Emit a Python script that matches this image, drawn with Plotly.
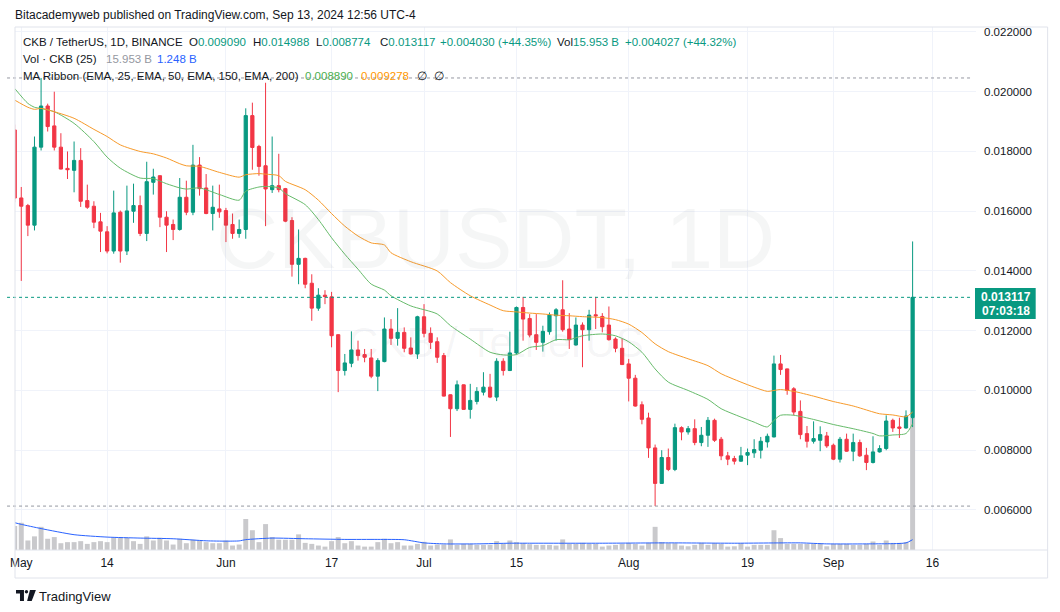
import plotly.graph_objects as go
import pandas as pd

# ---------------- data ----------------
first_date = "2024-04-30"          # first candle (daily)
day_zero = "2024-05-01"            # reference day for indicator sample offsets

opens = [
    0.01872, 0.016444, 0.016189, 0.015533, 0.018144, 0.019522, 0.018856, 0.018144, 0.017433, 0.017367,
    0.017700, 0.016356, 0.016167, 0.015644, 0.015311, 0.014667, 0.015967, 0.014667, 0.016000, 0.016189,
    0.015256, 0.016967, 0.017189, 0.015800, 0.015556, 0.015389, 0.016467, 0.015967, 0.017544, 0.016778,
    0.015922, 0.016078, 0.016022, 0.015556, 0.015256, 0.015389, 0.019200, 0.018167, 0.017522, 0.016722,
    0.016856, 0.016756, 0.015689, 0.014222, 0.014422, 0.013589, 0.012756, 0.013189, 0.013133, 0.011867,
    0.010667, 0.010911, 0.011356, 0.011200, 0.011089, 0.010478, 0.010967, 0.012056, 0.011744, 0.011944,
    0.011422, 0.011222, 0.012467, 0.011911, 0.011633, 0.011167, 0.009856, 0.009389, 0.010189, 0.009367,
    0.009633, 0.009944, 0.010111, 0.009778, 0.010978, 0.010667, 0.011256, 0.012778, 0.012411, 0.011867,
    0.011611, 0.011967, 0.012500, 0.012700, 0.012056, 0.011522, 0.012189, 0.012033, 0.012533, 0.012478,
    0.012189, 0.011722, 0.011411, 0.010889, 0.010411, 0.009522, 0.009078, 0.008078, 0.006889, 0.007756,
    0.007356, 0.008756, 0.008611, 0.008722, 0.008256, 0.008500, 0.009000, 0.008367, 0.007811, 0.007722,
    0.007633, 0.007833, 0.007911, 0.008000, 0.008278, 0.008444, 0.010889, 0.010722, 0.010056, 0.009300,
    0.008556, 0.008300, 0.008333, 0.008478, 0.008167, 0.007700, 0.008367, 0.007967, 0.008256, 0.007833,
    0.007589, 0.007944, 0.008056, 0.009000, 0.008778, 0.008744, 0.009090,
]
highs = [
    0.01890, 0.016811, 0.016244, 0.018500, 0.020460, 0.019600, 0.020000, 0.018611, 0.018000, 0.018333,
    0.018111, 0.016889, 0.016333, 0.015944, 0.015500, 0.016689, 0.016022, 0.016856, 0.016922, 0.016522,
    0.017656, 0.017422, 0.017200, 0.016000, 0.015722, 0.017111, 0.017022, 0.018222, 0.017811, 0.017244,
    0.016856, 0.016889, 0.016111, 0.015922, 0.015722, 0.019444, 0.019633, 0.018222, 0.020300, 0.018500,
    0.017922, 0.016780, 0.015800, 0.015389, 0.014444, 0.013889, 0.013422, 0.013356, 0.013300, 0.011880,
    0.011222, 0.011978, 0.011667, 0.011389, 0.011389, 0.011078, 0.012444, 0.012389, 0.012756, 0.012111,
    0.011778, 0.012500, 0.012889, 0.012111, 0.011778, 0.011256, 0.009870, 0.010333, 0.010200, 0.010222,
    0.010111, 0.010611, 0.010556, 0.011078, 0.011078, 0.011967, 0.012811, 0.013133, 0.012556, 0.012556,
    0.012167, 0.012611, 0.012756, 0.013689, 0.012589, 0.012444, 0.012278, 0.012700, 0.013133, 0.012589,
    0.012811, 0.011778, 0.011744, 0.011056, 0.010522, 0.009633, 0.009256, 0.008189, 0.008000, 0.008056,
    0.008889, 0.008800, 0.008811, 0.009033, 0.008778, 0.009111, 0.009056, 0.008444, 0.007944, 0.007811,
    0.008111, 0.008056, 0.008367, 0.008444, 0.008556, 0.011167, 0.011189, 0.010730, 0.010111, 0.009667,
    0.008811, 0.008967, 0.008800, 0.008611, 0.008222, 0.008444, 0.008556, 0.008556, 0.008356, 0.008078,
    0.008467, 0.008167, 0.009167, 0.009056, 0.009089, 0.009333, 0.014988,
]
lows = [
    0.01630, 0.013667, 0.015167, 0.015356, 0.018033, 0.018667, 0.018033, 0.017400, 0.017078, 0.016633,
    0.016144, 0.016078, 0.015433, 0.014633, 0.014589, 0.014578, 0.014278, 0.014533, 0.015611, 0.015167,
    0.015000, 0.016556, 0.015467, 0.014633, 0.015033, 0.015350, 0.015867, 0.015867, 0.016522, 0.015900,
    0.015356, 0.015778, 0.014967, 0.015078, 0.015111, 0.015078, 0.017389, 0.017189, 0.015500, 0.016611,
    0.016633, 0.015633, 0.013811, 0.013556, 0.013422, 0.012333, 0.012667, 0.012889, 0.011444, 0.009944,
    0.010500, 0.010778, 0.011000, 0.010944, 0.010411, 0.009978, 0.010944, 0.011522, 0.011500, 0.011278,
    0.011200, 0.011056, 0.011778, 0.011389, 0.010922, 0.009800, 0.008444, 0.009311, 0.009350, 0.009056,
    0.009533, 0.009833, 0.009744, 0.009644, 0.010500, 0.010650, 0.011200, 0.011667, 0.011778, 0.011356,
    0.011300, 0.011867, 0.011667, 0.011967, 0.011389, 0.011500, 0.010778, 0.011667, 0.012056, 0.011944,
    0.011667, 0.011278, 0.010850, 0.009633, 0.009460, 0.008867, 0.007744, 0.006130, 0.006880, 0.007300,
    0.007300, 0.008333, 0.008522, 0.008167, 0.008133, 0.008111, 0.008278, 0.007667, 0.007500, 0.007522,
    0.007611, 0.007500, 0.007744, 0.007722, 0.008089, 0.008430, 0.010522, 0.009856, 0.009167, 0.008367,
    0.008089, 0.008222, 0.007967, 0.008078, 0.007667, 0.007589, 0.007950, 0.007633, 0.007778, 0.007333,
    0.007556, 0.007922, 0.008000, 0.008611, 0.008411, 0.008722, 0.008774,
]
closes = [
    0.01644, 0.016167, 0.015533, 0.018144, 0.019522, 0.018833, 0.018144, 0.017411, 0.017389, 0.017700,
    0.016333, 0.016133, 0.015633, 0.015333, 0.014667, 0.015944, 0.014667, 0.016011, 0.016189, 0.015256,
    0.016989, 0.017144, 0.015800, 0.015533, 0.015389, 0.016467, 0.015967, 0.017544, 0.016756, 0.015922,
    0.016133, 0.015978, 0.015533, 0.015256, 0.015389, 0.019200, 0.018133, 0.017500, 0.016744, 0.016856,
    0.016722, 0.015667, 0.014222, 0.014422, 0.013556, 0.012756, 0.013189, 0.013144, 0.011833, 0.010667,
    0.010922, 0.011356, 0.011167, 0.011111, 0.010478, 0.011000, 0.012056, 0.011744, 0.011944, 0.011411,
    0.011222, 0.012467, 0.011911, 0.011611, 0.011111, 0.009811, 0.009389, 0.010189, 0.009367, 0.009667,
    0.009967, 0.010111, 0.009778, 0.010978, 0.010667, 0.011256, 0.012778, 0.012389, 0.011856, 0.011611,
    0.011978, 0.012522, 0.012700, 0.012033, 0.011700, 0.012189, 0.012033, 0.012522, 0.012500, 0.012133,
    0.011700, 0.011411, 0.010867, 0.010411, 0.009478, 0.009033, 0.008078, 0.006889, 0.007756, 0.007356,
    0.008756, 0.008611, 0.008722, 0.008256, 0.008500, 0.009000, 0.008333, 0.007811, 0.007700, 0.007633,
    0.007811, 0.007922, 0.008022, 0.008300, 0.008467, 0.010889, 0.010700, 0.010000, 0.009278, 0.008522,
    0.008300, 0.008389, 0.008522, 0.008144, 0.007700, 0.008367, 0.007967, 0.008256, 0.007811, 0.007589,
    0.007944, 0.008056, 0.008978, 0.008744, 0.008733, 0.009144, 0.013117,
]
volumes_b = [
    2.90, 3.29, 1.15, 1.65, 2.80, 1.36, 1.56, 0.82, 0.95, 0.95,
    1.07, 0.74, 0.95, 1.07, 0.95, 1.48, 1.48, 1.48, 1.07, 0.74,
    1.65, 1.15, 1.48, 1.15, 0.66, 1.36, 0.82, 1.24, 1.15, 0.95,
    0.82, 0.82, 1.15, 0.54, 0.66, 3.75, 2.39, 0.95, 3.13, 1.56,
    1.24, 1.24, 1.24, 1.89, 0.86, 0.74, 0.54, 0.41, 1.07, 1.56,
    0.82, 1.07, 0.54, 0.41, 0.41, 0.95, 1.36, 0.82, 0.95, 0.54,
    0.54, 0.74, 0.99, 0.54, 0.66, 0.66, 1.28, 0.62, 0.74, 0.74,
    0.62, 0.62, 0.62, 1.07, 0.74, 1.15, 0.95, 0.82, 0.70, 0.62,
    0.62, 0.62, 0.54, 1.28, 0.74, 0.74, 0.86, 0.74, 0.74, 0.41,
    0.54, 0.62, 0.74, 0.86, 0.74, 0.54, 0.86, 2.80, 0.95, 0.82,
    0.82, 0.54, 0.45, 0.62, 0.86, 0.62, 0.82, 0.74, 0.41, 0.45,
    0.82, 0.41, 0.62, 0.62, 0.62, 2.39, 1.44, 0.74, 0.74, 0.74,
    0.74, 0.74, 0.82, 0.45, 0.74, 0.74, 0.74, 0.62, 0.62, 0.74,
    1.03, 0.62, 1.15, 0.86, 0.86, 0.95, 15.953,
]

# indicator samples (offset in days from day_zero)
ema25_days = [-1, 1, 2, 3, 5, 8, 11, 13, 15, 18, 20, 22, 24, 25, 27, 30, 33, 34, 36, 37,
              39, 40, 43, 45, 47, 49, 51, 53, 55, 56, 59, 63, 65, 68, 71, 73, 75, 77, 79, 81,
              83, 85, 88, 90, 92, 94, 96, 98, 101, 104, 106, 109, 111, 113, 114, 115, 117, 120, 123, 126,
              129, 130, 132, 134, 135]
ema25_vals = [0.02011, 0.01961, 0.01948, 0.01944, 0.01933, 0.01894, 0.01833, 0.01781, 0.01744, 0.01711,
              0.01709, 0.01692, 0.01678, 0.01674, 0.01678, 0.01656, 0.01637, 0.01667, 0.01681, 0.01683,
              0.01678, 0.01659, 0.01622, 0.01572, 0.01511, 0.01456, 0.01406, 0.01356, 0.01336, 0.01317,
              0.01283, 0.01256, 0.01217, 0.01172, 0.01128, 0.01119, 0.01120, 0.01144, 0.01150, 0.01170,
              0.01170, 0.01183, 0.01189, 0.01183, 0.01163, 0.01128, 0.01072, 0.01028, 0.01000, 0.00970,
              0.00939, 0.00911, 0.00894, 0.00878, 0.00900, 0.00917, 0.00917, 0.00903, 0.00886, 0.00872,
              0.00856, 0.00848, 0.00851, 0.00856, 0.00889]
ema50_days = ema25_days
ema50_vals = [0.01972, 0.01948, 0.01941, 0.01944, 0.01933, 0.01911, 0.01874, 0.01850, 0.01822, 0.01800,
              0.01792, 0.01778, 0.01759, 0.01752, 0.01750, 0.01730, 0.01714, 0.01722, 0.01726, 0.01724,
              0.01719, 0.01700, 0.01672, 0.01637, 0.01592, 0.01550, 0.01517, 0.01494, 0.01487, 0.01461,
              0.01431, 0.01400, 0.01361, 0.01317, 0.01286, 0.01267, 0.01263, 0.01259, 0.01256, 0.01252,
              0.01250, 0.01247, 0.01244, 0.01237, 0.01222, 0.01194, 0.01156, 0.01130, 0.01106, 0.01083,
              0.01056, 0.01028, 0.01011, 0.00997, 0.01000, 0.01003, 0.00997, 0.00981, 0.00963, 0.00948,
              0.00928, 0.00922, 0.00918, 0.00912, 0.009278]
vol_ma_days = [-1, 0, 3, 8, 13, 18, 23, 28, 31, 33, 34, 38, 43, 49, 54, 58, 61, 64, 69, 74,
               77, 88, 98, 108, 118, 122, 128, 134, 135]
vol_ma_vals = [3.30, 3.10, 2.59, 1.85, 1.56, 1.44, 1.36, 1.11, 1.07, 1.10, 1.25, 1.44, 1.36, 1.28, 1.28,
               1.24, 0.86, 0.74, 0.74, 0.82, 0.82, 0.82, 0.86, 0.82, 0.86, 0.74, 0.74, 0.86, 1.248]

tick_dates = ["2024-05-01", "2024-05-14", "2024-06-01", "2024-06-17", "2024-07-01",
              "2024-07-15", "2024-08-01", "2024-08-19", "2024-09-01", "2024-09-16"]
tick_text = ["May", "14", "Jun", "17", "Jul", "15", "Aug", "19", "Sep", "16"]

last_price = 0.013117

# ---------------- styling ----------------
UP, DOWN = "#089981", "#f23645"
TEXT = "#131722"
GRID = "#f0f3fa"
FONT = "Liberation Sans, Arial, sans-serif"

W, H = 1060, 612
PL, PR, PT, PB = 10, 976, 27, 550   # plot area in pixels


def px(x):
    return (x - PL) / (PR - PL)


def py(y):
    return (PB - y) / (PB - PT)


dates = pd.date_range(first_date, periods=len(opens), freq="D")
base = pd.Timestamp(day_zero)
to_dates = lambda days: [base + pd.Timedelta(days=d) for d in days]

fig = go.Figure()

fig.add_trace(go.Bar(
    x=dates, y=volumes_b, yaxis="y", marker=dict(color="#c9c9cc", line=dict(width=0)),
    hoverinfo="skip", showlegend=False))
fig.add_trace(go.Scatter(
    x=to_dates(vol_ma_days), y=vol_ma_vals, yaxis="y", mode="lines",
    line=dict(color="#2962ff", width=1, shape="spline", smoothing=0.6),
    hoverinfo="skip", showlegend=False))

fig.add_trace(go.Candlestick(
    x=dates, open=opens, high=highs, low=lows, close=closes, yaxis="y2",
    increasing=dict(line=dict(color=UP, width=1), fillcolor=UP),
    decreasing=dict(line=dict(color=DOWN, width=1), fillcolor=DOWN),
    whiskerwidth=0, hoverinfo="skip", showlegend=False))

fig.add_trace(go.Scatter(
    x=to_dates(ema25_days), y=ema25_vals, yaxis="y2", mode="lines",
    line=dict(color="#66bb6a", width=1, shape="spline", smoothing=0.7),
    hoverinfo="skip", showlegend=False))
fig.add_trace(go.Scatter(
    x=to_dates(ema50_days), y=ema50_vals, yaxis="y2", mode="lines",
    line=dict(color="#f79a2a", width=1, shape="spline", smoothing=0.7),
    hoverinfo="skip", showlegend=False))

price_lo, price_hi = 0.00466, 0.022166
vol_top = 63.2

shapes = []
# range high / low markers and last price line
for val, col in [(max(highs), "#9598a1"), (min(lows), "#9598a1"), (last_price, UP)]:
    shapes.append(dict(type="line", xref="paper", yref="y2", x0=px(2), x1=px(972), y0=val, y1=val,
                       line=dict(color=col, width=1, dash="dot"), layer="above"))
# frame
frame = "#e0e3eb"
shapes += [
    dict(type="line", xref="paper", yref="paper", x0=px(PL), x1=px(1048), y0=py(PT), y1=py(PT),
         line=dict(color=frame, width=1)),
    dict(type="line", xref="paper", yref="paper", x0=px(PL), x1=px(1048), y0=py(PB), y1=py(PB),
         line=dict(color=frame, width=1)),
    dict(type="line", xref="paper", yref="paper", x0=px(PL), x1=px(1048), y0=py(578), y1=py(578),
         line=dict(color=frame, width=1)),
    dict(type="line", xref="paper", yref="paper", x0=px(PL), x1=px(PL), y0=py(PT), y1=py(578),
         line=dict(color=frame, width=1)),
    dict(type="line", xref="paper", yref="paper", x0=px(1048), x1=px(1048), y0=py(PT), y1=py(578),
         line=dict(color=frame, width=1)),
]
# last price box
shapes.append(dict(type="rect", xref="paper", yref="paper", x0=px(975), x1=px(1036), y0=py(288), y1=py(319),
                   fillcolor=UP, line=dict(width=0), layer="above"))


# TradingView logo
def path(points):
    s = "M " + " L ".join(f"{px(a):.5f},{py(b):.5f}" for a, b in points) + " Z"
    return s


shapes.append(dict(type="path", xref="paper", yref="paper",
                   path=path([(11, 590), (19, 590), (19, 601), (15, 601), (15, 593.5), (11, 593.5)]),
                   fillcolor=TEXT, line=dict(width=0)))
shapes.append(dict(type="circle", xref="paper", yref="paper", x0=px(19.8), x1=px(23.2), y0=py(590), y1=py(593.5),
                   fillcolor=TEXT, line=dict(width=0)))
shapes.append(dict(type="path", xref="paper", yref="paper",
                   path=path([(25, 590), (31, 590), (26.8, 601), (22.2, 601)]),
                   fillcolor=TEXT, line=dict(width=0)))

ann = []


def txt(x, y, s, size=11.5, color=TEXT, anchor="left", bold=False, family=FONT):
    if bold:
        s = f"<b>{s}</b>"
    ann.append(dict(xref="paper", yref="paper", x=px(x), y=py(y), text=s, showarrow=False,
                    xanchor=anchor, yanchor="middle", borderpad=0,
                    font=dict(size=size, color=color, family=family)))


def c(s, col):
    return f'<span style="color:{col}">{s}</span>'


txt(9, 15, "Bitacademyweb published on TradingView.com, Sep 13, 2024 12:56 UTC-4", 12)
txt(17, 42, "CKB / TetherUS, 1D, BINANCE")
txt(184, 42, "O" + c("0.009090", UP))
txt(248, 42, "H" + c("0.014988", UP))
txt(312, 42, "L" + c("0.008774", UP))
txt(376, 42, "C" + c("0.013117", UP))
txt(436, 42, c("+0.004030 (+44.35%)", UP))
txt(554, 42, "Vol" + c("15.953 B", UP))
txt(622, 42, c("+0.004027 (+44.32%)", UP))
txt(17, 59, "Vol · CKB (25)")
txt(100, 59, "15.953 B", color="#9598a1")
txt(152, 59, "1.248 B", color="#2962ff")
txt(17, 76, "MA Ribbon (EMA, 25, EMA, 50, EMA, 150, EMA, 200)")
txt(301, 76, "0.008890", color="#4caf50")
txt(357, 76, "0.009278", color="#ff9800")
txt(413, 76, "∅")
txt(430, 76, "∅")

# watermark
txt(493, 238, "CKBUSDT, 1D", 86, color="rgba(120,123,134,0.07)", anchor="center")
txt(493, 342, "CKB / TetherUS", 42, color="rgba(120,123,134,0.07)", anchor="center")

# last price label text
txt(1006, 297, "0.013117", 12, color="white", anchor="center", bold=True)
txt(1006, 311, "07:03:18", 12, color="white", anchor="center", bold=True)

txt(33, 596, "TradingView", 13)

fig.update_layout(
    width=W, height=H,
    margin=dict(l=PL, r=W - PR, t=PT, b=H - PB, pad=0),
    paper_bgcolor="white", plot_bgcolor="white",
    font=dict(family=FONT, color=TEXT, size=12),
    showlegend=False, bargap=0.25,
    xaxis=dict(type="date", range=["2024-04-30 01:12:00", "2024-09-22 14:24:00"],
               tickmode="array", tickvals=tick_dates, ticktext=tick_text,
               showgrid=True, gridcolor=GRID, gridwidth=1, zeroline=False, showline=False,
               ticks="", tickfont=dict(size=12, color=TEXT), rangeslider=dict(visible=False),
               fixedrange=True, ticklabelstandoff=4),
    yaxis=dict(range=[0, vol_top], visible=False, fixedrange=True, showgrid=False),
    yaxis2=dict(overlaying="y", side="right", range=[price_lo, price_hi], tick0=0, dtick=0.002,
                tickformat=".6f", showgrid=True, gridcolor=GRID, gridwidth=1, zeroline=False,
                showline=False, ticks="", tickfont=dict(size=11.5, color=TEXT), fixedrange=True,
                ticklabelstandoff=7),
    shapes=shapes, annotations=ann,
)

fig.write_html("out.html", config={"displayModeBar": False},
               post_script="document.body.style.margin='0px';")
